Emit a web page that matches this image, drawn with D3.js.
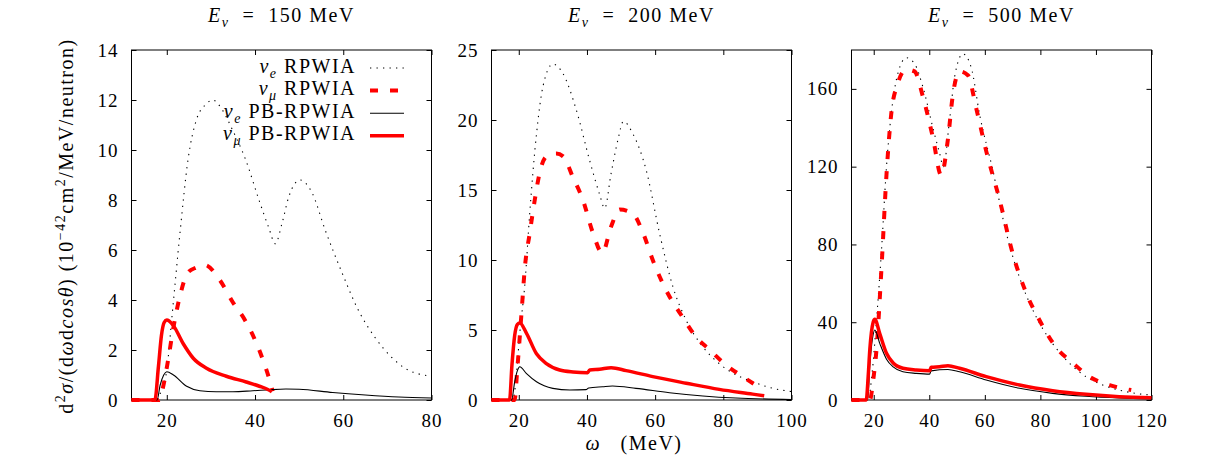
<!DOCTYPE html>
<html>
<head>
<meta charset="utf-8">
<script src="https://cdn.jsdelivr.net/npm/d3@7"></script>
<style>
  body { margin: 0; background: #fff; }
  text { font-family: "Liberation Serif", "DejaVu Serif", serif; fill: #000; letter-spacing: 1.5px; }
  .tick text { letter-spacing: 1px; }
</style>
</head>
<body>
<svg id="chart" width="1224" height="465"></svg>
<script>
// ---- data: [omega (MeV), d2sigma] ----
const energies = [150, 200, 500];
const xMax = [80, 100, 120];
const yMax = [14, 25, 180];
const yTicks150 = [0, 2, 4, 6, 8, 10, 12, 14];
const yTicks200 = [0, 5, 10, 15, 20, 25];
const yTicks500 = [0, 40, 80, 120, 160];
const xTicks150 = [20, 40, 60, 80];
const xTicks200 = [20, 40, 60, 80, 100];
const xTicks500 = [20, 40, 60, 80, 100, 120];

const e150_rpwia = [[12,0],[17.8,0],[18.6,0.3],[20,1.2],[21.1,3.2],[23,6.7],[24.8,9.6],[26.7,11.2],[29,11.85],[30.4,12.0],[32.6,11.6],[34.9,10.8],[37.9,9.6],[40.9,8.0],[43.1,6.9],[44.6,6.25],[46.1,7.05],[47.6,8.1],[50.2,8.8],[52.9,8.3],[55.9,6.8],[59.7,5.1],[63.4,3.6],[67.2,2.5],[71,1.7],[74.7,1.2],[77,1.05],[80,0.95]];
const mu150_rpwia = [[12,0],[18.3,0],[19,0.4],[20.3,1.6],[21.4,2.8],[22.9,4.1],[24.8,5.1],[26.7,5.3],[28.6,5.4],[32,4.8],[35,3.9],[37.7,3.2],[40,2.4],[41.8,1.6],[43.3,0.8],[44,0.35]];
const e150_pb = [[12,0],[17.8,0],[18.5,0.6],[19.3,1.0],[20,1.13],[21.5,1.0],[24.5,0.55],[27.5,0.37],[31.2,0.33],[35,0.33],[39.5,0.37],[42.5,0.4],[47,0.44],[50,0.43],[57.6,0.3],[65,0.2],[72.6,0.12],[80,0.08]];
const mu150_pb = [[12,0],[17.3,0],[18.1,1.33],[18.8,2.6],[19.4,3.1],[20,3.2],[21.4,3.0],[23.7,2.26],[26,1.67],[29,1.27],[33.5,0.95],[38,0.72],[41,0.55],[42.9,0.42],[43.8,0.33]];

const e200_rpwia = [[12,0],[18.3,0],[19.2,1.5],[20.3,4.8],[21.8,8.3],[23.2,13.3],[25.2,19.0],[27.1,22.4],[30,24.0],[33,23.3],[36.9,20.7],[40.8,17.1],[43.7,14.7],[45.2,13.7],[47.1,16.2],[49.1,18.6],[50.7,19.9],[53.5,19.0],[57.4,16.4],[61.3,11.9],[65.2,8.1],[69.1,5.7],[74,3.8],[78.8,2.6],[83.7,1.8],[88.6,1.3],[93.5,0.9],[100,0.6]];
const mu200_rpwia = [[12,0],[18.8,0],[19.5,2],[20.8,6.2],[21.8,9.5],[23.2,11.9],[24.7,14.3],[26.1,16.2],[28.1,17.4],[31,17.6],[33,17.4],[35.9,15.9],[38.8,14.3],[41.8,11.9],[44.5,10.5],[47.1,12.4],[49.6,13.6],[53.5,13.3],[56.5,11.9],[59.3,10.0],[63.2,7.85],[68.1,5.9],[72,4.5],[75.9,3.6],[80.8,2.5],[85.7,1.67],[91,0.83]];
const e200_pb = [[12,0],[17.9,0],[18.8,1.3],[19.6,2.1],[20.3,2.38],[22.2,1.9],[25.2,1.3],[30,0.83],[35,0.71],[39.7,0.74],[40.5,0.86],[44.6,0.95],[47.5,1.0],[54.4,0.83],[64.2,0.52],[74,0.29],[83.7,0.14],[100,0.04]];
const mu200_pb = [[12,0],[17.3,0],[18,2.5],[18.8,4.6],[19.6,5.4],[20.3,5.5],[22.2,4.8],[25.2,3.3],[28.1,2.6],[32,2.14],[35.9,2.0],[40.2,1.95],[40.8,2.15],[43.7,2.2],[47.1,2.3],[51.5,2.1],[59.3,1.67],[69.1,1.2],[78.8,0.76],[88.6,0.42],[92,0.3]];

const e500_rpwia = [[12,0],[18,0],[19.5,15],[21,41],[22.8,77],[24.6,120],[26.3,147],[28.7,168],[31.7,176],[34.7,173],[37.7,161],[41.3,140],[43.7,127],[45.1,120],[47.3,144],[49.1,166],[52.1,178],[55.1,171],[58.1,147],[62.9,118],[67.7,86],[72.5,63],[78.4,43],[84.4,29],[90.4,19],[96.4,12],[102.4,7.7],[108.4,5.1],[114.4,3.4],[120,2.5]];
const mu500_rpwia = [[12,0],[18.6,0],[19.8,10],[21,26],[22.8,68],[24.6,116],[26.3,147],[28.7,163],[31.7,170],[34.7,169],[37.7,156],[41.3,135],[44.3,115.5],[46.7,134],[48.5,157],[50.9,169],[53.9,167],[56.9,150],[60.5,128],[65.3,103],[70.1,75],[74.9,55],[79.7,41],[85.7,27],[91.7,19],[97.7,12],[104.9,7.7],[112.7,5.1]];
const e500_pb = [[12,0],[17.8,0],[18.6,18],[19.6,32],[20.4,36],[22.2,29],[24.6,21],[27,17],[30.5,14.5],[35.3,13.7],[40.1,13.3],[40.7,15],[46.7,15.7],[50.9,14.5],[60.5,10.3],[72.5,6],[84.4,3.4],[96.4,1.9],[108.4,1],[120,0.5]];
const mu500_pb = [[12,0],[17.3,0],[18,12],[18.6,26],[19.8,40],[20.4,41.5],[22.2,34],[24.6,24],[27,19],[30.5,16.3],[35.3,15.4],[40.1,15],[40.7,16.8],[43.7,17.1],[46.7,17.6],[50.9,16.3],[60.5,12],[72.5,7.7],[84.4,4.8],[96.4,2.9],[108.4,1.7],[120,1.2]];

const panels = [
  { series: [e150_rpwia, mu150_rpwia, e150_pb, mu150_pb], xTicks: xTicks150, yTicks: yTicks150 },
  { series: [e200_rpwia, mu200_rpwia, e200_pb, mu200_pb], xTicks: xTicks200, yTicks: yTicks200 },
  { series: [e500_rpwia, mu500_rpwia, e500_pb, mu500_pb], xTicks: xTicks500, yTicks: yTicks500 }
];

// line styles, same order as the series
const styles = [
  { color: '#000', width: 1.1, dash: '1.3,5.2' },
  { color: '#f00', width: 4, dash: '8,12' },
  { color: '#000', width: 1.1, dash: null },
  { color: '#f00', width: 3.5, dash: null }
];
const legendLabels = [
  [{ t: 'ν', it: 1 }, { t: 'e', it: 1, sub: 1 }, { t: ' RPWIA' }],
  [{ t: 'ν', it: 1 }, { t: 'μ', it: 1, sub: 1 }, { t: ' RPWIA' }],
  [{ t: 'ν', it: 1 }, { t: 'e', it: 1, sub: 1 }, { t: ' PB-RPWIA' }],
  [{ t: 'ν', it: 1 }, { t: 'μ', it: 1, sub: 1 }, { t: ' PB-RPWIA' }]
];

var fs = 20, tickFs = 19;
var plotTop = 50, plotBottom = 400, plotW = 300;
var lefts = [131.5, 491.5, 851.5];
var tickLen = 5;

var svg = d3.select('#chart');

// writes text parts with italic / sub / sup pieces as tspans
function rich(sel, parts, size) {
  var shift = 0;
  parts.forEach(function(p) {
    var target = p.sup ? -0.4 * size : p.sub ? 0.25 * size : 0;
    var ts = sel.append('tspan').text(p.t).attr('dy', target - shift);
    shift = target;
    if (p.sup || p.sub) ts.attr('font-size', size * 0.7);
    if (p.it) ts.attr('font-style', 'italic');
  });
}

panels.forEach(function(p, i) {
  var x = d3.scaleLinear().domain([12, xMax[i]]).range([lefts[i], lefts[i] + plotW]);
  var y = d3.scaleLinear().domain([0, yMax[i]]).range([plotBottom, plotTop]);
  var g = svg.append('g');

  // mirrored, inward ticks
  g.append('g').attr('transform', `translate(0, ${plotBottom})`)
    .call(d3.axisBottom(x).tickValues(p.xTicks).tickSize(-tickLen).tickPadding(14));
  g.append('g').attr('transform', `translate(0, ${plotTop})`)
    .call(d3.axisTop(x).tickValues(p.xTicks).tickSize(-tickLen).tickFormat(''));
  g.append('g').attr('transform', `translate(${lefts[i]}, 0)`)
    .call(d3.axisLeft(y).tickValues(p.yTicks).tickSize(-tickLen).tickPadding(13));
  g.append('g').attr('transform', `translate(${lefts[i] + plotW}, 0)`)
    .call(d3.axisRight(y).tickValues(p.yTicks).tickSize(-tickLen).tickFormat(''));
  g.selectAll('.domain').remove();
  g.selectAll('.tick line').attr('stroke', '#000');
  g.selectAll('.tick text')
    .attr('font-size', tickFs)
    .attr('font-family', '"Liberation Serif", serif')
    .attr('fill', '#000');

  g.append('rect')
    .attr('x', lefts[i]).attr('y', plotTop)
    .attr('width', plotW).attr('height', plotBottom - plotTop)
    .attr('fill', 'none').attr('stroke', '#000').attr('stroke-width', 1);

  var line = d3.line()
    .x(function(d) { return x(d[0]); })
    .y(function(d) { return y(d[1]); })
    .curve(d3.curveMonotoneX);

  p.series.forEach(function(s, k) {
    g.append('path')
      .datum(s)
      .attr('d', line)
      .attr('fill', 'none')
      .attr('stroke', styles[k].color)
      .attr('stroke-width', styles[k].width)
      .attr('stroke-dasharray', styles[k].dash);
  });

  // panel title
  var t = svg.append('text')
    .attr('x', lefts[i] + plotW / 2).attr('y', 22)
    .attr('text-anchor', 'middle').attr('font-size', fs)
    .attr('xml:space', 'preserve');
  rich(t, [{ t: 'E', it: 1 }, { t: 'ν', it: 1, sub: 1 }, { t: '  =  ' + energies[i] + ' MeV' }], fs);
});

// legend (first panel)
legendLabels.forEach(function(lab, k) {
  var cy = 68 + k * 22.6;
  var t = svg.append('text')
    .attr('x', 356).attr('y', cy + 4.5)
    .attr('text-anchor', 'end').attr('font-size', fs);
  rich(t, lab, fs);
  svg.append('line')
    .attr('x1', 370).attr('x2', 404).attr('y1', cy).attr('y2', cy)
    .attr('stroke', styles[k].color)
    .attr('stroke-width', styles[k].width)
    .attr('stroke-dasharray', styles[k].dash);
});

// y label
var yl = svg.append('text')
  .attr('transform', 'translate(73, 226) rotate(-90)')
  .attr('text-anchor', 'middle').attr('font-size', fs)
  .attr('xml:space', 'preserve');
rich(yl, [
  { t: 'd' }, { t: '2', sup: 1 }, { t: 'σ', it: 1 }, { t: '/(d' }, { t: 'ω', it: 1 },
  { t: 'd' }, { t: 'cosθ', it: 1 }, { t: ') (10' }, { t: '−42', sup: 1 },
  { t: 'cm' }, { t: '2', sup: 1 }, { t: '/MeV/neutron)' }
], fs);

// x label
var xl = svg.append('text')
  .attr('x', 634).attr('y', 450)
  .attr('text-anchor', 'middle').attr('font-size', fs)
  .attr('xml:space', 'preserve');
rich(xl, [{ t: 'ω', it: 1 }, { t: '   (MeV)' }], fs);
</script>
</body>
</html>
